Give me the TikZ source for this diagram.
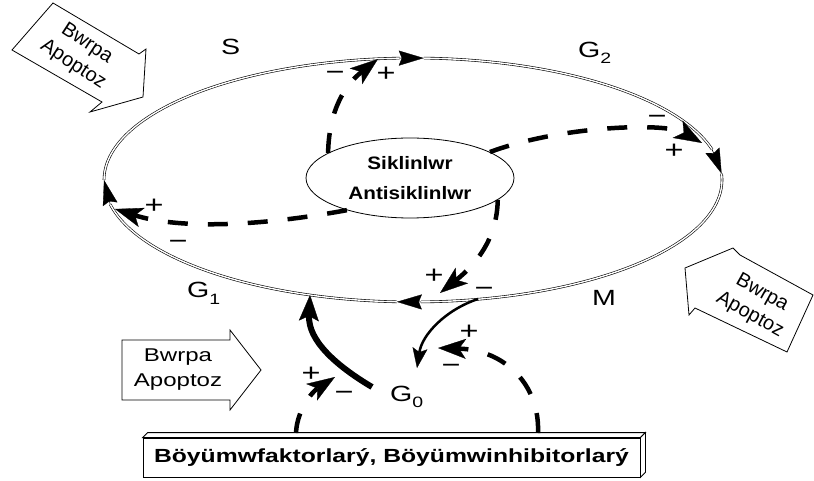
\documentclass[tikz,border=0pt]{standalone}
\usepackage{fontspec}
\setmainfont[FakeStretch=1.3]{Liberation Sans}
\newfontfamily\rotsans{Liberation Sans}
\newfontfamily\midsans[FakeStretch=1.15]{Liberation Sans}
\usetikzlibrary{arrows.meta,shapes.geometric}
% point on the cell-cycle ring at parameter angle #2
\newcommand\ringpt[2]{\coordinate (#1) at ({413+309*cos(#2)},{180+122*sin(#2)});}
% double-line piece of the ring between two parameter angles
\newcommand\ringarc[2]{\draw[ring] plot[smooth, domain=#1:#2, samples=40] ({413+309*cos(\x)},{180+122*sin(\x)});}
\newcommand\subidx[1]{\raisebox{-6pt}{\fontsize{15}{15}\selectfont #1}}
% two-line label turned by #1 degrees
\newcommand\turnedlabel[1]{\rotatebox{#1}{\rotsans\fontsize{20}{25}\selectfont\begin{tabular}{@{}c@{}}Bwrpa\\Apoptoz\end{tabular}}}
\begin{document}
\begin{tikzpicture}[x=1pt, y=-1pt,
  ring/.style={double=white, double distance=1.4pt, line width=0.6pt},
  ringtip/.style={line width=0.6pt, -{Stealth[length=25pt,width=15pt,inset=3pt,line width=0.3pt]}},
  effect/.style={line width=4.5pt, dash pattern=on 20pt off 20pt, -{Stealth[length=28pt,width=20pt,inset=7pt,line width=0.3pt]}},
  thinflow/.style={line width=2.5pt, -{Stealth[length=20pt,width=15pt,inset=4pt,line width=0.3pt]}},
  thickflow/.style={line width=6pt, -{Stealth[length=26pt,width=20pt,inset=5pt,line width=0.3pt]}},
  sgn/.style={font=\fontsize{25}{25}\selectfont, inner sep=0pt, text height=17.5pt, text depth=0pt},
  phase/.style={font=\fontsize{22}{22}\selectfont, inner sep=0pt, anchor=base west},
  blockarrow/.style={draw, fill=white, line width=0.8pt, line join=miter},
  blocktext/.style={font=\fontsize{18.5}{25}\selectfont, align=center, inner sep=0pt},
]
\useasboundingbox (0,0) rectangle (814,481);

% block arrows
\draw[blockarrow] (12,50) -- (53,3) -- (139,54) -- (146,49) -- (143,97) -- (90,112) -- (102,102) -- cycle;
\node[inner sep=0pt] (ap1) at (80,54) {\turnedlabel{-33}};
\draw[blockarrow] (685,268) -- (733,248) -- (740,255) -- (813,295) -- (787,352) -- (695,308) -- (689,315) -- cycle;
\node[inner sep=0pt] (ap2) at (756,304) {\turnedlabel{-29}};
\draw[blockarrow] (122,340) -- (230,340) -- (230,330) -- (261,370) -- (230,410) -- (230,400) -- (122,400) -- cycle;
\node[blocktext] (ap3) at (178,370) {Bwrpa\\Apoptoz};

% the cycle ring
\ringpt{L}{180}
\ringpt{Tb}{267.5}\ringpt{T}{272}
\ringpt{Rb}{345.5}\ringpt{R}{357}
\ringpt{Bb}{448.5}\ringpt{B}{453}
\ringpt{Lb}{528.5}
\ringarc{180}{267.5}
\ringarc{272}{345.5}
\ringarc{357}{448.5}
\ringarc{453}{528.5}
\draw[ringtip] (Tb) -- (T);
\draw[ringtip] (Rb) -- (R);
\draw[ringtip] (Bb) -- (B);
\draw[ringtip] (Lb) -- (L);

% regulators in the middle
\node[ellipse, draw, line width=0.8pt, minimum width=208pt, minimum height=80pt, inner sep=0pt,
      font=\midsans\bfseries\fontsize{18}{30}\selectfont, align=center] (cyc) at (410,178) {Siklinlwr\\Antisiklinlwr};

% factor box
\node[draw, fill=white, line width=0.8pt, minimum width=497pt, minimum height=39pt, inner sep=0pt,
      font=\bfseries\fontsize{19}{19}\selectfont] (box) at (391.5,457.5) {Böyümwfaktorlarý, Böyümwinhibitorlarý};
\draw[line width=0.8pt, fill=white, line join=miter] (box.north west) -- ++(5,-5) -- ([shift={(5,-5)}]box.north east) -- (box.north east) -- cycle;
\draw[line width=0.8pt, fill=white, line join=miter] (box.north east) -- ++(5,-5) -- ([shift={(5,-5)}]box.south east) -- (box.south east) -- cycle;

% phase labels
\node[phase] (sS) at (221,55) {S};
\node[phase] (sG2) at (578,58) {G\subidx{2}};
\node[phase] (sG1) at (187,298) {G\subidx{1}};
\node[phase] (sM) at (592,305) {M};
\node[phase] (sG0) at (390,401) {G\subidx{0}};

% connector end points
\coordinate (aEnd) at (378,59);
\coordinate (bEnd) at (702,143);
\coordinate (cEnd) at (115,209);
\coordinate (dEnd) at (440,293);
\coordinate (eStart) at (478,299);
\coordinate (eEnd) at (417,368);
\coordinate (fStart) at (372,387);
\coordinate (fEnd) at (310,295);
\coordinate (gStart) at (296,433);
\coordinate (gEnd) at (335,377);
\coordinate (hStart) at (538,433);
\coordinate (hEnd) at (438,348);

% regulatory effects
\draw[effect] (cyc.163) .. controls (329,110) and (345,85) .. (aEnd);
\draw[effect] (cyc.18) .. controls (560,126) and (665,122) .. (bEnd);
\draw[effect] (cyc.207) .. controls (250,228) and (175,228) .. (cEnd);
\draw[effect] (cyc.346) .. controls (497,240) and (475,265) .. (dEnd);
\draw[thinflow] (eStart) .. controls (445,310) and (422,335) .. (eEnd);
\draw[thickflow] (fStart) .. controls (335,365) and (308,340) .. (fEnd);
\draw[effect] (gStart) .. controls (297,410) and (312,392) .. (gEnd);
\draw[effect] (hStart) .. controls (540,385) and (505,350) .. (hEnd);

% signs
\node[sgn] (m1) at (335,72) {−};
\node[sgn] (p1) at (386,73) {+};
\node[sgn] (m2) at (657,116) {−};
\node[sgn] (p2) at (674,150) {+};
\node[sgn] (p3) at (154,205) {+};
\node[sgn] (m3) at (178,241) {−};
\node[sgn] (p4) at (434,275) {+};
\node[sgn] (m4) at (484,288) {−};
\node[sgn] (p5) at (469,331) {+};
\node[sgn] (m5) at (451,365) {−};
\node[sgn] (p6) at (311,373) {+};
\node[sgn] (m6) at (344,392) {−};
\end{tikzpicture}
\end{document}
